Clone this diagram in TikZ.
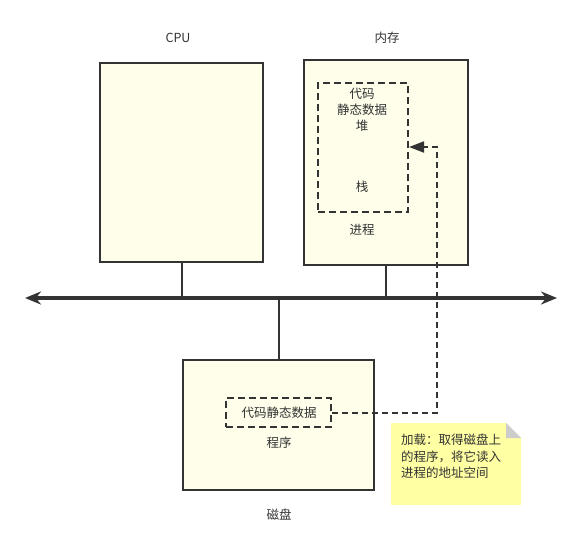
\documentclass[tikz,border=0pt]{standalone}
\usepackage{fontspec}
\setmainfont{Noto Sans CJK SC}
\usetikzlibrary{arrows.meta}
\definecolor{boxfill}{HTML}{FEFEEB}
\definecolor{stroke}{HTML}{333333}
\definecolor{notefill}{HTML}{FFFFA3}
\definecolor{foldfill}{HTML}{CCCCCC}
\tikzset{
  box/.style={draw=stroke, line width=2pt, fill=boxfill},
  dbox/.style={draw=stroke, line width=2pt, dash pattern=on 7pt off 4pt},
  lbl/.style={font=\fontsize{12.5}{14}\selectfont, text=stroke, inner sep=0pt},
  bus/.style={draw=stroke, line width=4pt, {Stealth[length=16pt,width=13pt]}-{Stealth[length=16pt,width=13pt]}},
  link/.style={draw=stroke, line width=2pt},
  dconn/.style={draw=stroke, line width=2pt, dash pattern=on 6pt off 4pt, -{Triangle[length=15pt,width=11pt]}},
}
\begin{document}
\begin{tikzpicture}[x=1pt,y=-1pt]
\useasboundingbox (0,0) rectangle (579,554);
% CPU
\node[lbl] (cpulbl) at (178,38) {CPU};
\node[box, minimum width=163pt, minimum height=199pt] (cpu) at (181.5,162.5) {};
% memory
\node[lbl] (memlbl) at (387,38) {内存};
\node[box, minimum width=164pt, minimum height=205pt] (mem) at (386,162.5) {};
\node[dbox, minimum width=90pt, minimum height=129pt] (proc) at (363,147.5) {};
\node[lbl] (t1) at (362,94) {代码};
\node[lbl] (t2) at (362,110) {静态数据};
\node[lbl] (t3) at (362,126) {堆};
\node[lbl] (t4) at (362,187) {栈};
\node[lbl] (proclbl) at (362,230) {进程};
% bus
\coordinate (bl) at (25,298);
\coordinate (br) at (557,298);
\draw[bus] (bl) -- (br);
% disk
\node[box, minimum width=191pt, minimum height=130pt] (disk) at (278.5,425) {};
\node[lbl] (disklbl) at (279,515) {磁盘};
\node[dbox, minimum width=105pt, minimum height=29pt] (prog) at (278.5,412.5) {};
\node[lbl] (t5) at (279,413) {代码静态数据};
\node[lbl] (proglbl) at (279,443) {程序};
% links
\draw[link] (cpu.south) -- (cpu.south |- bl);
\draw[link] (mem.south) -- (mem.south |- bl);
\draw[link] (disk.north) -- (disk.north |- bl);
% load connector
\coordinate (turn) at (437,147);
\draw[dconn] (prog.east) -| (turn) -- (turn -| proc.east);
% note
\fill[notefill] (391,423) -- (506,423) -- (521,438) -- (521,505) -- (391,505) -- cycle;
\fill[foldfill] (506,423) -- (521,438) -- (506,438) -- cycle;
\node[lbl, anchor=north west, align=left, font=\fontsize{12.5}{16.5}\selectfont] (note) at (401,434) {加载：取得磁盘上\\的程序，将它读入\\进程的地址空间};
\end{tikzpicture}
\end{document}
